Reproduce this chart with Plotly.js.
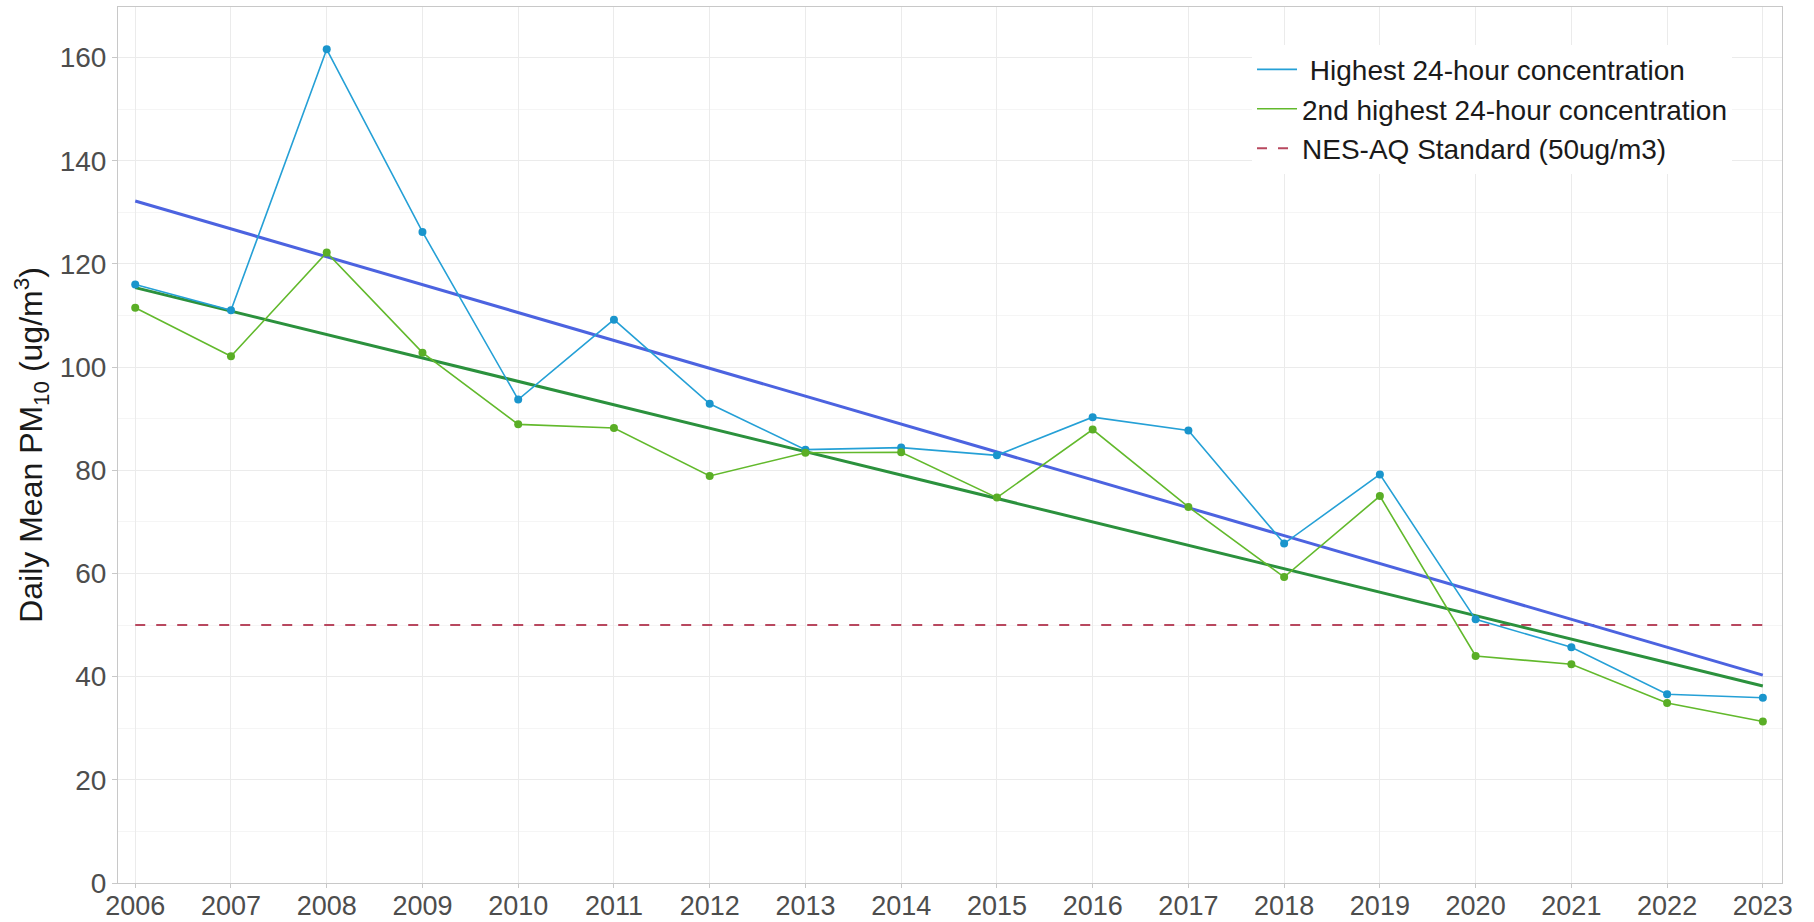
<!DOCTYPE html>
<html>
<head>
<meta charset="utf-8">
<script src="https://cdn.plot.ly/plotly-3.0.1.min.js"></script>
<style>
  html, body { margin: 0; padding: 0; background: #ffffff; }
  #chart { width: 1814px; height: 922px; }
</style>
</head>
<body>
<div id="chart"></div>
<script>
// ---- data ----
const years = [2006, 2007, 2008, 2009, 2010, 2011, 2012, 2013, 2014, 2015, 2016, 2017, 2018, 2019, 2020, 2021, 2022, 2023];
const highest = [116.0, 111.0, 161.6, 126.2, 93.7, 109.2, 92.9, 84.0, 84.4, 82.9, 90.3, 87.7, 65.8, 79.2, 51.1, 45.7, 36.6, 35.9];
const secondHighest = [111.5, 102.1, 122.2, 102.8, 88.9, 88.2, 78.9, 83.4, 83.5, 74.7, 87.9, 72.9, 59.3, 75.0, 44.0, 42.4, 34.9, 31.3];
const trendYears = [2006, 2023];
const trendHighest = [132.2, 40.3];
const trendSecond = [115.4, 38.2];
const standardYears = [2006, 2023];
const standardValue = [50, 50];
const seriesNames = [" Highest 24-hour concentration", "2nd highest 24-hour concentration", "NES-AQ Standard (50ug/m3)"];
const yTickVals = [0, 20, 40, 60, 80, 100, 120, 140, 160];

const FONT = "Liberation Sans, Arial, sans-serif";
const C_HIGH = "#25a0d6", C_HIGH_M = "#1a95cc";
const C_SECOND = "#62b92c", C_SECOND_M = "#5aae26";
const C_STD = "#b8485f";
const STD_DASH = "10px,11px";

const traces = [
  {
    x: standardYears, y: standardValue, name: seriesNames[2], mode: "lines",
    line: { color: C_STD, width: 2, dash: STD_DASH }, legendrank: 3
  },
  {
    x: trendYears, y: trendHighest, mode: "lines", showlegend: false,
    line: { color: "#4c63e0", width: 3 }
  },
  {
    x: trendYears, y: trendSecond, mode: "lines", showlegend: false,
    line: { color: "#2b913d", width: 3 }
  },
  {
    x: years, y: highest, name: seriesNames[0], mode: "lines+markers", showlegend: false,
    legendgroup: "high",
    line: { color: C_HIGH, width: 1.6 },
    marker: { color: C_HIGH_M, size: 8 }
  },
  {
    x: years, y: secondHighest, name: seriesNames[1], mode: "lines+markers", showlegend: false,
    legendgroup: "second",
    line: { color: C_SECOND, width: 1.6 },
    marker: { color: C_SECOND_M, size: 8 }
  },
  // legend entries (line only, as in the reference legend)
  {
    x: [null], y: [null], name: seriesNames[0], mode: "lines", legendgroup: "high",
    line: { color: C_HIGH, width: 1.6 }, legendrank: 1
  },
  {
    x: [null], y: [null], name: seriesNames[1], mode: "lines", legendgroup: "second",
    line: { color: C_SECOND, width: 1.6 }, legendrank: 2
  }
];

const layout = {
  width: 1814, height: 922,
  margin: { l: 118, r: 32, t: 7, b: 39 },
  paper_bgcolor: "#ffffff", plot_bgcolor: "#ffffff",
  font: { family: FONT, size: 28, color: "#4d4d4d" },
  showlegend: true,
  legend: {
    x: 0.6815, y: 0.957, xanchor: "left", yanchor: "top",
    bgcolor: "#ffffff", borderwidth: 0,
    font: { family: FONT, size: 28, color: "#1a1a1a" },
    traceorder: "normal", itemwidth: 40, tracegroupgap: 0
  },
  xaxis: {
    range: [2005.82, 2023.2],
    tickmode: "array", tickvals: years, ticktext: years.map(String),
    showgrid: true, gridcolor: "#ebebeb", gridwidth: 1,
    zeroline: false,
    showline: true, linecolor: "#c8c8c8", linewidth: 1, mirror: true,
    ticks: "outside", ticklen: 4, tickcolor: "#c8c8c8",
    ticklabelstandoff: -5,
    tickfont: { family: FONT, size: 27, color: "#4d4d4d" }
  },
  yaxis: {
    range: [0, 169.8],
    tickmode: "array", tickvals: yTickVals,
    showgrid: true, gridcolor: "#ebebeb", gridwidth: 1,
    minor: { dtick: 10, tick0: 0, showgrid: true, gridcolor: "#f5f5f5", gridwidth: 1, ticks: "" },
    zeroline: false,
    showline: true, linecolor: "#c8c8c8", linewidth: 1, mirror: true,
    ticks: "outside", ticklen: 5, tickcolor: "#c8c8c8",
    tickfont: { family: FONT, size: 28, color: "#4d4d4d" },
    title: {
      text: "Daily Mean PM<sub>10</sub> (ug/m<sup>3</sup>)",
      font: { family: FONT, size: 32, color: "#1a1a1a" },
      standoff: 7
    }
  }
};

Plotly.newPlot("chart", traces, layout, { displayModeBar: false, staticPlot: true });
</script>
</body>
</html>
